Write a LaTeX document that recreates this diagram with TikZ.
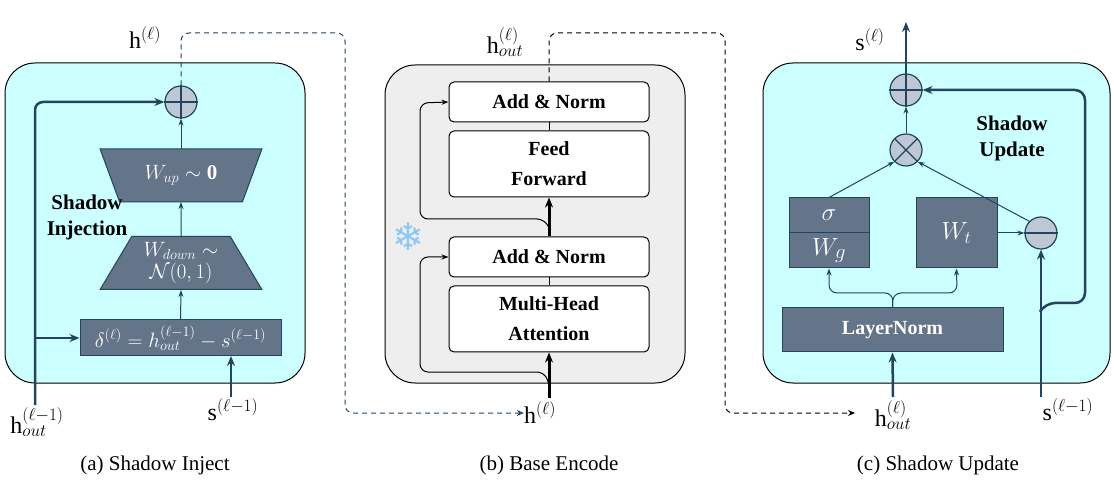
\documentclass[tikz,border=0pt]{standalone}
\usepackage{fontspec}
\setmainfont{Liberation Serif}
\usetikzlibrary{arrows.meta,shapes.geometric,calc}
\definecolor{cy}{RGB}{204,255,255}
\definecolor{gb}{RGB}{238,238,238}
\definecolor{dk}{RGB}{100,116,137}
\definecolor{ln}{RGB}{34,68,94}
\definecolor{cf}{RGB}{190,200,212}
\definecolor{snow}{RGB}{140,200,245}
\tikzset{
 panel/.style={draw=black,line width=1pt,rounded corners=30pt},
 dkbox/.style={draw=ln,line width=1pt,fill=dk,text=white,inner sep=0pt,minimum height=#1},
 wbox/.style={draw=black,line width=1pt,fill=white,rounded corners=5pt,minimum width=200pt,minimum height=#1,inner sep=0pt,font=\fontsize{20}{30}\selectfont\bfseries,align=center},
 trap/.style={trapezium,draw=ln,line width=1pt,fill=dk,text=white,minimum height=53pt,trapezium stretches=true,minimum width=162pt,inner sep=0pt,align=center,font=\fontsize{21}{25}\selectfont},
 op/.style={circle,draw=ln,line width=1.2pt,fill=cf,minimum size=32pt,inner sep=0pt},
 tarr/.style={draw=ln,line width=1pt,-{Stealth[length=7pt,width=5pt]}},
 karr/.style={draw=ln,line width=2.5pt,-{Stealth[length=10pt,width=8pt]}},
 lab/.style={font=\fontsize{24}{26}\selectfont,inner sep=0pt},
 captxt/.style={font=\fontsize{21}{24}\selectfont},
 bold/.style={font=\fontsize{21}{26}\selectfont\bfseries,align=center},
 dsh/.style={dashed,dash pattern=on 5pt off 4pt,line width=1pt,rounded corners=8pt,-{Stealth[length=7pt,width=6pt,open]}}
}
\begin{document}
\begin{tikzpicture}[x=1pt,y=-1pt]
\useasboundingbox (0,0) rectangle (1114,494);
% panels
\draw[panel,fill=cy] (5,63) rectangle (305,383);
\draw[panel,fill=gb] (385,65) rectangle (685,383);
\draw[panel,fill=cy] (763,63) rectangle (1110,383);
% ===== A
\node[op] (pa) at (181,102) {};
\draw[draw=ln,line width=1.2pt] (pa.north)--(pa.south) (pa.west)--(pa.east);
\node[trap,shape border rotate=180] (wup) at (181,175.5) {$W_{up}\sim\mathbf{0}$};
\node[trap] (wdn) at (181,263) {$W_{down}\sim$\\[-3pt]$\mathcal{N}(0,1)$};
\coordinate (wupb) at (181,202);
\coordinate (wupt) at (181,149);
\node[dkbox=36pt,minimum width=201pt,font=\fontsize{20}{22}\selectfont] (del) at (180.5,338) {$\delta^{(\ell)}=h_{out}^{(\ell-1)}-s^{(\ell-1)}$};
\node[bold] at (87,217) {Shadow\\Injection};
\node[lab] (hA) at (37,422) {$\mathrm{h}_{out}^{(\ell-1)}$};
\node[lab] (sA) at (233,410) {$\mathrm{s}^{(\ell-1)}$};
\node[lab] (hlA) at (145,38) {$\mathrm{h}^{(\ell)}$};
\draw[karr,rounded corners=8pt] (35,405) -- (35,102) -- (pa.west);
\draw[karr] (35,338) -- (del.west);
\draw[karr] (231,397) -- (231,356);
\draw[tarr] (del.north) -- (wdn.north |- 0,290);
\draw[tarr] (wdn.north |- 0,236) -- (wupb);
\draw[tarr] (wupt) -- (pa.south);
% ===== B
\node[wbox=40pt] (an1) at (549,102) {Add \& Norm};
\node[wbox=66pt] (ff) at (549,164) {Feed\\Forward};
\node[wbox=40pt] (an2) at (549,257) {Add \& Norm};
\node[wbox=66pt] (mha) at (549,319) {Multi-Head\\Attention};
\node[lab] (hB) at (540,413) {$\mathrm{h}^{(\ell)}$};
\node[lab] (hoB) at (505,42) {$\mathrm{h}_{out}^{(\ell)}$};
\node[text=snow,font=\fontsize{38}{38}\selectfont] (snw) at (408,237) {\fontspec{DejaVu Sans}❄};
\draw[line width=3pt,-{Stealth[length=10pt,width=8pt]}] (549,398) -- (mha.south);
\draw[line width=3pt,-{Stealth[length=10pt,width=8pt]}] (an2.north) -- (ff.south);
\draw[line width=1pt] (mha.north) -- (an2.south) (ff.north) -- (an1.south);
\draw[line width=1pt,rounded corners=8pt,-{Stealth[length=7pt,width=5pt]}] (549,385) -- (545,372) -- (420,372) -- (420,257) -- (an2.west);
\draw[line width=1pt,rounded corners=8pt,-{Stealth[length=7pt,width=5pt]}] (549,228) -- (545,219) -- (420,219) -- (420,103) -- (an1.west);
% dashed
\draw[dsh,draw=ln] (pa.north) -- (181,33) -- (345,33) -- (345,413) -- (hB.west);
\draw[dsh,draw=black] (an1.north) -- (549,33) -- (725,33) -- (725,413) -- (855,413);
% ===== C
\node[op] (pc) at (906,90) {};
\draw[draw=ln,line width=1.2pt] (pc.north)--(pc.south) (pc.west)--(pc.east);
\node[op] (tc) at (906,150) {};
\draw[draw=ln,line width=1.2pt] (tc.45)--(tc.225) (tc.135)--(tc.315);
\node[op] (mc) at (1041,233) {};
\draw[draw=ln,line width=1.2pt] (mc.west)--(mc.east);
\node[dkbox=35pt,minimum width=80pt,font=\fontsize{24}{24}\selectfont] (sig) at (829,215.5) {$\sigma$};
\node[dkbox=35pt,minimum width=80pt,font=\fontsize{28}{28}\selectfont] (wg) at (829,250.5) {$W_g$};
\node[dkbox=70pt,minimum width=81pt,font=\fontsize{24}{24}\selectfont] (wt) at (956.5,233) {$W_t$};
\node[dkbox=44pt,minimum width=221pt,font=\fontsize{20}{22}\selectfont\bfseries] (lnm) at (892.5,330) {LayerNorm};
\node[bold] at (1012,138) {Shadow\\Update};
\node[lab] (hC) at (893,415) {$\mathrm{h}_{out}^{(\ell)}$};
\node[lab] (sC) at (1068,410) {$\mathrm{s}^{(\ell-1)}$};
\node[lab] (slC) at (870,40) {$\mathrm{s}^{(\ell)}$};
\coordinate (top) at (906,22);
\draw[karr] (893,397) -- (lnm.south);
\draw[tarr,rounded corners=8pt] (lnm.north) -- (893,293) -- (829,293) -- (wg.south);
\draw[tarr,rounded corners=8pt] (lnm.north) -- (893,293) -- (957,293) -- (wt.south);
\draw[tarr] (sig.north) -- (tc.south west);
\draw[tarr] (mc.north west) -- (tc.south east);
\draw[tarr] (wt.east) -- (mc.west);
\draw[tarr] (tc.north) -- (pc.south);
\draw[karr] (1041,397) -- (mc.south);
\draw[karr,rounded corners=10pt] (1041,310) -- (1045,303) -- (1085,303) -- (1085,90) -- (pc.east);
\draw[karr] (pc.north) -- (top);
% captions
\node[captxt] at (155,465) {(a) Shadow Inject};
\node[captxt] at (549,465) {(b) Base Encode};
\node[captxt] at (938,465) {(c) Shadow Update};
\end{tikzpicture}
\end{document}
